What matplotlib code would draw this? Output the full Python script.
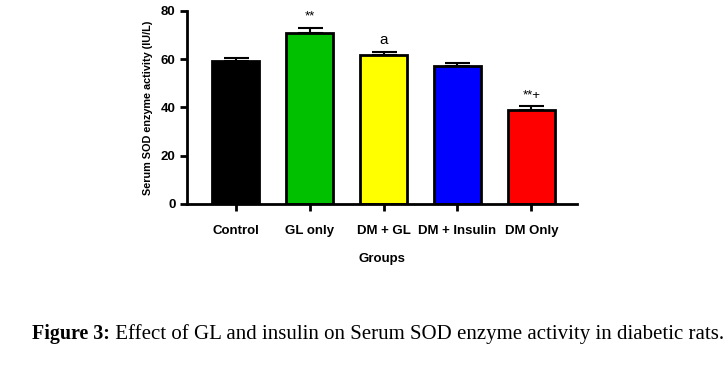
import numpy as np
import matplotlib.pyplot as plt
import matplotlib

matplotlib.rc('font', family='Liberation Sans')

groups = ['Control', 'GL only', 'DM + GL', 'DM + Insulin', 'DM Only']
means = [59.4, 70.8, 61.7, 57.1, 39.0]
errors = [1.2, 2.3, 1.3, 1.2, 1.4]
colors = ['#000000', '#00c000', '#ffff00', '#0000ff', '#ff0000']
marks = ['', '**', 'a', '', '**+']

fig = plt.figure(figsize=(7.27, 3.66), dpi=100)
ax = fig.add_axes([0.257, 0.443, 0.537, 0.527])

x = np.arange(len(groups))
ax.bar(x, means, width=0.63, color=colors, edgecolor='black', linewidth=2, zorder=2)
ax.errorbar(x, means, yerr=[np.zeros(len(errors)), errors], fmt='none',
            ecolor='black', elinewidth=1.5, capsize=9, capthick=1.5, zorder=1)

for xi, m, e, s in zip(x, means, errors, marks):
    if s:
        fs = 11 if s == 'a' else 9.5
        ax.text(xi, m + e + 2.0, s, ha='center', va='bottom', fontsize=fs)

ax.set_xlim(-0.66, 4.62)
ax.set_ylim(0, 80)
ax.set_yticks([0, 20, 40, 60, 80])
ax.set_xticks(x)
ax.set_xticklabels(groups, fontsize=9.5, fontweight='bold')
for lbl in ax.get_yticklabels():
    lbl.set_fontsize(9.5)
    lbl.set_fontweight('bold')
ax.tick_params(axis='both', direction='out', length=5, width=2, pad=3)
ax.tick_params(axis='x', pad=10)

for side in ('top', 'right'):
    ax.spines[side].set_visible(False)
for side in ('left', 'bottom'):
    ax.spines[side].set_linewidth(2)

ax.set_ylabel('Serum SOD enzyme activity (IU/L)', fontsize=7.8, fontweight='bold', labelpad=6)
ax.set_xlabel('Groups', fontsize=9.5, fontweight='bold', labelpad=12)

t1 = fig.text(32 / 727, 1 - 334 / 366, 'Figure 3:', fontsize=14.4, fontweight='bold',
              family='Liberation Serif', va='center')
ax.annotate(' Effect of GL and insulin on Serum SOD enzyme activity in diabetic rats.',
            xy=(1, 0.5), xycoords=t1, va='center', ha='left', fontsize=15,
            family='Liberation Serif', annotation_clip=False)

fig.savefig('out.png', dpi=100)
